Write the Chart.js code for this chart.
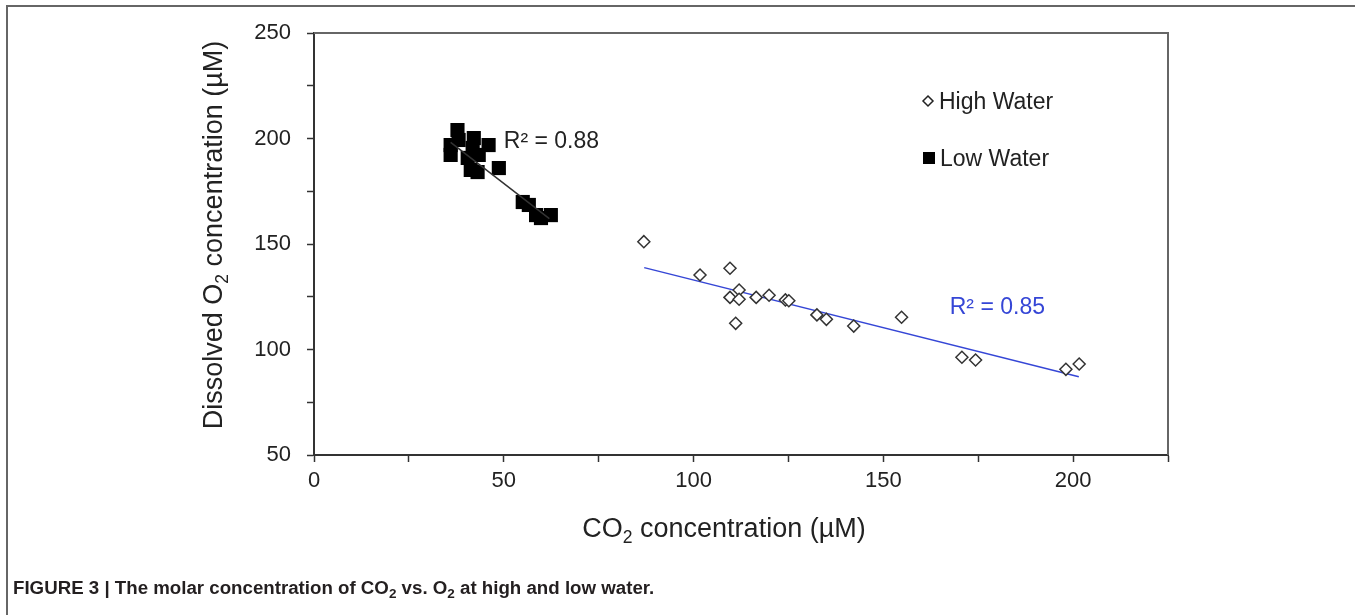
<!DOCTYPE html>
<html>
<head>
<meta charset="utf-8">
<script src="https://cdn.jsdelivr.net/npm/chart.js@4"></script>
<style>
  html, body { margin: 0; padding: 0; background: #fff; }
  #wrap { position: relative; width: 1355px; height: 615px; overflow: hidden; }
  #frame { position: absolute; left: 6px; top: 5px; right: -4px; bottom: -4px;
           border-left: 2px solid #666; border-top: 2px solid #666; }
  #chart { position: absolute; left: 0; top: 0; }
  #caption { position: absolute; left: 13px; top: 577px; white-space: nowrap;
             font: bold 18.7px "Liberation Sans Narrow", "Liberation Sans", Arial, sans-serif; color: #231f20; }
  #caption sub { font-size: 13.5px; vertical-align: -4px; line-height: 0; }
</style>
</head>
<body>
<div id="wrap">
  <div id="frame"></div>
  <canvas id="chart" width="1355" height="615"></canvas>
  <div id="caption">FIGURE 3 | The molar concentration of CO<sub>2</sub> vs. O<sub>2</sub> at high and low water.</div>
</div>
<script>
// High water samples (open diamonds)
const highCO2 = [86.9, 101.7, 109.6, 109.6, 112.0, 112.0, 111.1, 116.5, 119.9, 124.2, 125.1, 132.5, 135.0, 142.2, 154.8, 170.7, 174.3, 198.1, 201.6];
const highO2  = [151.1, 135.3, 138.5, 124.7, 128.2, 123.8, 112.4, 124.7, 125.7, 123.5, 123.1, 116.4, 114.3, 111.1, 115.3, 96.3, 95.0, 90.6, 93.1];

// Low water samples (filled squares)
const lowCO2 = [37.8, 36.0, 36.0, 38.1, 42.1, 46.0, 41.8, 40.5, 43.4, 41.3, 43.1, 48.7, 55.0, 56.6, 58.5, 59.8, 62.4];
const lowO2  = [204.0, 196.9, 192.2, 199.3, 200.2, 196.9, 195.5, 190.8, 192.2, 185.1, 184.1, 186.0, 169.9, 168.5, 163.7, 162.3, 163.7];

// linear fits
const highFitX = [87.0, 201.5];
const highFitY = [138.8, 87.1];
const lowFitX = [36.0, 62.0];
const lowFitY = [198.2, 162.0];

const highR2 = 'R² = 0.85';
const lowR2 = 'R² = 0.88';

const xTicks = [0, 50, 100, 150, 200];
const yTicks = [50, 100, 150, 200, 250];

const toPts = (xs, ys) => xs.map((x, i) => ({ x: x, y: ys[i] }));

const FONT = '"Liberation Sans", Arial, sans-serif';
const BLUE = '#3546d6';

// text with a subscript part
function subText(ctx, parts, size) {
  let w = 0;
  parts.forEach(p => {
    ctx.font = (p.sub ? size * 0.65 : size) + 'px ' + FONT;
    p.w = ctx.measureText(p.t).width;
    w += p.w;
  });
  return w;
}
function drawParts(ctx, parts, size, x, y) {
  parts.forEach(p => {
    ctx.font = (p.sub ? size * 0.65 : size) + 'px ' + FONT;
    ctx.fillText(p.t, x, p.sub ? y + size * 0.22 : y);
    x += p.w;
  });
}

const extras = {
  id: 'extras',
  afterDraw(chart) {
    const ctx = chart.ctx;
    const a = chart.chartArea;
    const xs = chart.scales.x, ys = chart.scales.y;
    ctx.save();
    // frame top and right
    ctx.strokeStyle = '#666';
    ctx.lineWidth = 2;
    ctx.beginPath();
    ctx.moveTo(a.left, a.top);
    ctx.lineTo(a.right, a.top);
    ctx.lineTo(a.right, a.bottom);
    ctx.stroke();

    // axis titles
    ctx.fillStyle = '#222';
    ctx.textBaseline = 'alphabetic';
    ctx.textAlign = 'left';
    const xt = [{ t: 'CO' }, { t: '2', sub: true }, { t: ' concentration (µM)' }];
    const xw = subText(ctx, xt, 27);
    drawParts(ctx, xt, 27, 724 - xw / 2, 537);

    const yt = [{ t: 'Dissolved O' }, { t: '2', sub: true }, { t: ' concentration (µM)' }];
    const yw = subText(ctx, yt, 27);
    ctx.save();
    ctx.translate(222, 235);
    ctx.rotate(-Math.PI / 2);
    drawParts(ctx, yt, 27, -yw / 2, 0);
    ctx.restore();

    // R² labels
    ctx.font = '23px ' + FONT;
    ctx.textBaseline = 'middle';
    ctx.fillStyle = '#222';
    ctx.fillText(lowR2, xs.getPixelForValue(50), ys.getPixelForValue(198.5));
    ctx.fillStyle = BLUE;
    ctx.fillText(highR2, xs.getPixelForValue(167.5), ys.getPixelForValue(120));

    // legend
    ctx.fillStyle = '#222';
    ctx.fillText('High Water', 939, 103);
    ctx.fillText('Low Water', 940, 160);
    ctx.strokeStyle = '#222';
    ctx.lineWidth = 1.5;
    ctx.fillStyle = '#fff';
    ctx.beginPath();
    ctx.moveTo(928, 96); ctx.lineTo(933, 101); ctx.lineTo(928, 106); ctx.lineTo(923, 101);
    ctx.closePath();
    ctx.fill(); ctx.stroke();
    ctx.fillStyle = '#000';
    ctx.fillRect(923, 152, 12, 12);
    ctx.restore();
  }
};

new Chart(document.getElementById('chart'), {
  type: 'scatter',
  data: {
    datasets: [
      {
        label: 'High Water',
        data: toPts(highCO2, highO2),
        pointStyle: 'rectRot',
        pointRadius: 6,
        pointHoverRadius: 6,
        backgroundColor: '#fff',
        borderColor: '#333',
        borderWidth: 1.5,
        order: 1
      },
      {
        label: 'Low Water',
        data: toPts(lowCO2, lowO2),
        pointStyle: 'rect',
        pointRadius: 10,
        pointHoverRadius: 10,
        backgroundColor: '#000',
        borderColor: '#000',
        borderWidth: 0,
        order: 2
      },
      {
        type: 'line',
        label: 'High fit',
        data: toPts(highFitX, highFitY),
        borderColor: BLUE,
        borderWidth: 1.5,
        pointRadius: 0,
        order: 3
      },
      {
        type: 'line',
        label: 'Low fit',
        data: toPts(lowFitX, lowFitY),
        borderColor: '#333',
        borderWidth: 1.5,
        pointRadius: 0,
        order: 0
      }
    ]
  },
  options: {
    responsive: false,
    animation: false,
    layout: { padding: { left: 0, top: 33, right: 187, bottom: 0 } },
    plugins: { legend: { display: false }, tooltip: { enabled: false } },
    scales: {
      x: {
        type: 'linear',
        min: 0,
        max: 225,
        afterFit: s => { s.height = 160; },
        afterBuildTicks: s => { s.ticks = []; for (let v = 0; v <= 225; v += 25) s.ticks.push({ value: v }); },
        ticks: {
          autoSkip: false,
          maxRotation: 0,
          padding: 6,
          color: '#222',
          font: { family: FONT, size: 22 },
          callback: v => xTicks.includes(v) ? v : ''
        },
        grid: { drawOnChartArea: false, drawTicks: true, tickLength: 7, tickColor: '#333', tickWidth: 1.5 },
        border: { display: true, color: '#333', width: 2 }
      },
      y: {
        type: 'linear',
        min: 50,
        max: 250,
        afterFit: s => { s.width = 314; },
        afterBuildTicks: s => { s.ticks = []; for (let v = 50; v <= 250; v += 25) s.ticks.push({ value: v }); },
        ticks: {
          autoSkip: false,
          padding: 16,
          color: '#222',
          font: { family: FONT, size: 22 },
          callback: v => yTicks.includes(v) ? v : ''
        },
        grid: { drawOnChartArea: false, drawTicks: true, tickLength: 7, tickColor: '#333', tickWidth: 1.5 },
        border: { display: true, color: '#333', width: 2 }
      }
    }
  },
  plugins: [extras]
});
</script>
</body>
</html>
